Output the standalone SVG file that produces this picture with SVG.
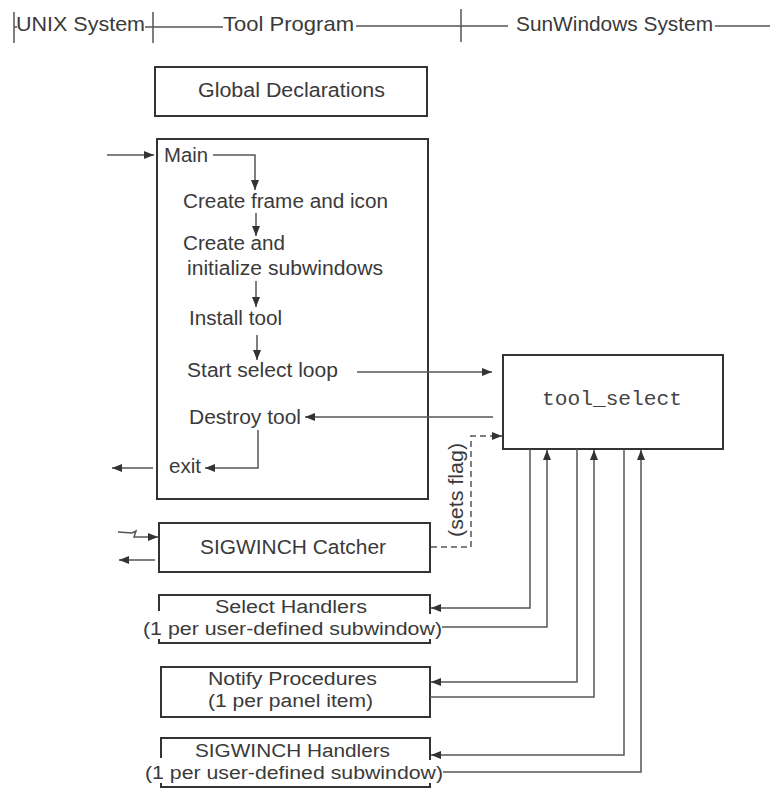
<svg xmlns="http://www.w3.org/2000/svg" width="770" height="788" viewBox="0 0 770 788">
<style>
  .t { font-family: "Liberation Sans", Arial, sans-serif; font-size: 20px; fill: #3a3a3a; }
  .s { font-family: "Liberation Sans", Arial, sans-serif; font-size: 18px; fill: #3a3a3a; }
  .h { font-family: "Liberation Sans", Arial, sans-serif; font-size: 21px; fill: #3a3a3a; }
  .mono { font-family: "Liberation Mono", "Courier New", monospace; font-size: 21px; fill: #444; }
  .box { fill: none; stroke: #333; stroke-width: 2; }
  .ln { fill: none; stroke: #555; stroke-width: 1.5; }
  .arr { fill: none; stroke: #555; stroke-width: 1.5; marker-end: url(#ah); }
  .dash { fill: none; stroke: #555; stroke-width: 1.5; stroke-dasharray: 6 4; marker-end: url(#ah); }
</style>
<defs>
  <marker id="ah" viewBox="0 0 10 8" refX="10" refY="4" markerWidth="11" markerHeight="8" orient="auto" markerUnits="userSpaceOnUse">
    <path d="M0,0 L10,4 L0,8 z" fill="#333"/>
  </marker>
</defs>
<rect width="770" height="788" fill="#fff"/>

<g id="header">
  <path class="ln" d="M14,12 V43 M14,27 H17 M145,27 H223 M153,12 V43 M356,26 H508 M461,9 V42 M715,26 H770"/>
  <text class="h" x="16" y="31" textLength="129" lengthAdjust="spacingAndGlyphs">UNIX System</text>
  <text class="h" x="223" y="31" textLength="131" lengthAdjust="spacingAndGlyphs">Tool Program</text>
  <text class="h" x="516" y="31" textLength="197" lengthAdjust="spacingAndGlyphs">SunWindows System</text>
</g>

<g id="global-declarations">
  <rect class="box" x="155" y="67" width="272" height="49"/>
  <text class="t" x="198" y="97" textLength="187" lengthAdjust="spacingAndGlyphs">Global Declarations</text>
</g>

<g id="main">
  <rect class="box" x="157" y="139" width="271" height="360"/>
  <text class="t" x="164" y="162" textLength="44" lengthAdjust="spacingAndGlyphs">Main</text>
  <text class="t" x="183" y="208" textLength="205" lengthAdjust="spacingAndGlyphs">Create frame and icon</text>
  <text class="t" x="183" y="250" textLength="102" lengthAdjust="spacingAndGlyphs">Create and</text>
  <text class="t" x="187" y="275" textLength="196" lengthAdjust="spacingAndGlyphs">initialize subwindows</text>
  <text class="t" x="189" y="325" textLength="93" lengthAdjust="spacingAndGlyphs">Install tool</text>
  <text class="t" x="187" y="377" textLength="151" lengthAdjust="spacingAndGlyphs">Start select loop</text>
  <text class="t" x="189" y="424" textLength="112" lengthAdjust="spacingAndGlyphs">Destroy tool</text>
  <text class="t" x="169" y="473" textLength="32" lengthAdjust="spacingAndGlyphs">exit</text>
</g>

<g id="tool-select">
  <rect class="box" x="503" y="355" width="220" height="94"/>
  <text class="mono" x="542" y="405" textLength="140" lengthAdjust="spacingAndGlyphs">tool_select</text>
</g>

<g id="sigwinch-catcher">
  <rect class="box" x="159" y="523" width="271" height="49"/>
  <text class="t" x="200" y="554" textLength="186" lengthAdjust="spacingAndGlyphs">SIGWINCH Catcher</text>
</g>

<g id="select-handlers">
  <path class="box" d="M159,611 V595 H430 V614 M159,639 V643 H430 V639"/>
  <text class="s" x="215" y="613" textLength="152" lengthAdjust="spacingAndGlyphs">Select Handlers</text>
  <text class="s" x="143" y="635" textLength="299" lengthAdjust="spacingAndGlyphs">(1 per user-defined subwindow)</text>
</g>

<g id="notify-procedures">
  <rect class="box" x="161" y="667" width="269" height="50"/>
  <text class="s" x="208" y="685" textLength="169" lengthAdjust="spacingAndGlyphs">Notify Procedures</text>
  <text class="s" x="208" y="707" textLength="165" lengthAdjust="spacingAndGlyphs">(1 per panel item)</text>
</g>

<g id="sigwinch-handlers">
  <path class="box" d="M161,758 V738 H430 V760 M161,783 V787 H430 V783"/>
  <text class="s" x="195" y="757" textLength="195" lengthAdjust="spacingAndGlyphs">SIGWINCH Handlers</text>
  <text class="s" x="145" y="779" textLength="298" lengthAdjust="spacingAndGlyphs">(1 per user-defined subwindow)</text>
</g>

<g id="connectors">
  <path class="arr" d="M107,155 H154"/>
  <path class="arr" d="M213,155 H255 V190"/>
  <path class="arr" d="M256,213 V236"/>
  <path class="arr" d="M256,281 V307"/>
  <path class="arr" d="M257,335 V360"/>
  <path class="arr" d="M357,372 H492"/>
  <path class="arr" d="M493,417 H305"/>
  <path class="arr" d="M258,430 V468 H205"/>
  <path class="arr" d="M153,468 H112"/>
  <path class="arr" d="M118,532 L132,533 L136,531 L134,537 H158"/>
  <path class="arr" d="M155,560 H119"/>
  <path class="dash" d="M431,547 H471 V436 H502"/>
  <text class="t" transform="translate(463,490) rotate(-90)" x="0" y="0" text-anchor="middle" font-size="19" textLength="94" lengthAdjust="spacingAndGlyphs">(sets flag)</text>
  <path class="arr" d="M530,449 V608 H431"/>
  <path class="arr" d="M442,627 H547 V450"/>
  <path class="arr" d="M577,449 V682 H431"/>
  <path class="arr" d="M430,697 H594 V450"/>
  <path class="arr" d="M624,449 V755 H431"/>
  <path class="arr" d="M443,772 H641 V450"/>
</g>
</svg>
